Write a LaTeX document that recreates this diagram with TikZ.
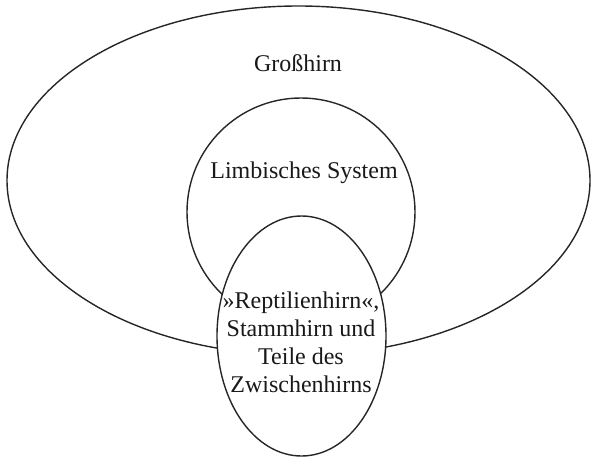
\documentclass[tikz,border=0pt]{standalone}
\usepackage{fontspec}
\setmainfont{Liberation Serif}
\usetikzlibrary{shapes.geometric}
\begin{document}
\begin{tikzpicture}[x=1pt,y=-1pt,
  region/.style={ellipse, draw=black!85, line width=1.4pt, inner sep=0pt, outer sep=0pt},
  lbl/.style={font=\fontsize{24}{28}\selectfont, text=black!90, align=center, inner sep=0pt}]
\useasboundingbox (0,0) rectangle (591,458);
\node[region, minimum width=583pt, minimum height=349pt] (gross) at (298.5,180.5) {};
\node[region, circle, minimum size=228pt] (limb) at (301,212) {};
\node[region, fill=white, minimum width=169pt, minimum height=240pt] (rept) at (301.5,336) {};
\node[lbl] (tgross) at (298,63) {Großhirn};
\node[lbl] (tlimb) at (304,173) {Limbisches System};
\node[lbl] (trept) at (301,342) {»Reptilienhirn«,\\Stammhirn und\\Teile des\\Zwischenhirns};
\end{tikzpicture}
\end{document}
